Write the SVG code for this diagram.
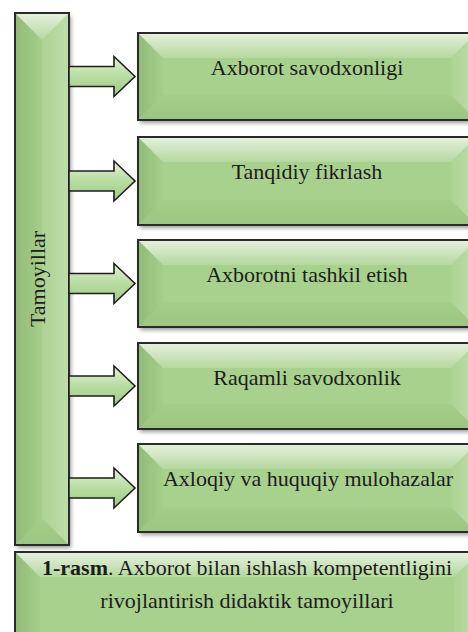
<svg xmlns="http://www.w3.org/2000/svg" width="468" height="632" viewBox="0 0 468 632">
<defs>
<filter id="sh" x="-10%" y="-10%" width="130%" height="130%">
<feDropShadow dx="2" dy="3" stdDeviation="2" flood-color="#000" flood-opacity="0.4"/>
</filter>
<linearGradient id="gTop" x1="0" y1="0" x2="0" y2="1">
<stop offset="0" stop-color="#fff" stop-opacity="0.7"/>
<stop offset="1" stop-color="#fff" stop-opacity="0.15"/>
</linearGradient>
<linearGradient id="gLeft" x1="0" y1="0" x2="1" y2="0">
<stop offset="0" stop-color="#3d6b2a" stop-opacity="0.22"/>
<stop offset="1" stop-color="#3d6b2a" stop-opacity="0.03"/>
</linearGradient>
<linearGradient id="gRight" x1="0" y1="0" x2="1" y2="0">
<stop offset="0" stop-color="#fff" stop-opacity="0.05"/>
<stop offset="1" stop-color="#fff" stop-opacity="0.25"/>
</linearGradient>
<linearGradient id="gBot" x1="0" y1="0" x2="0" y2="1">
<stop offset="0" stop-color="#5f8f48" stop-opacity="0.05"/>
<stop offset="1" stop-color="#5f8f48" stop-opacity="0.18"/>
</linearGradient>
<linearGradient id="gArrow" x1="0" y1="0" x2="0" y2="1">
<stop offset="0" stop-color="#e2f2d6"/>
<stop offset="0.5" stop-color="#b8dca1"/>
<stop offset="1" stop-color="#9fcb86"/>
</linearGradient>
</defs>
<style>
.body{fill:#a9d18e;}
.edge{fill:none;stroke:#2a2a2a;stroke-width:2;}
.t{font-family:"Liberation Serif","Times New Roman",serif;font-size:22px;fill:#1c1c1c;text-anchor:middle;}
.arrow{fill:url(#gArrow);stroke:#1e1e1e;stroke-width:1.6;stroke-linejoin:miter;}
</style>

<g id="tamoyillar">
<rect x="15" y="13" width="54" height="532" class="body" filter="url(#sh)"/>
<polygon points="15,13 69,13 42,40" fill="url(#gTop)"/>
<polygon points="15,13 42,40 42,518 15,545" fill="url(#gLeft)"/>
<polygon points="69,13 69,545 42,518 42,40" fill="url(#gRight)"/>
<polygon points="15,545 42,518 69,545" fill="url(#gBot)"/>
<rect x="15" y="13" width="54" height="532" class="edge"/>
<text class="t" transform="translate(45,279) rotate(-90)">Tamoyillar</text>
</g>

<g id="connectors">
<polygon class="arrow" points="69,66.5 114,66.5 114,56.5 135,76.5 114,96.5 114,86.5 69,86.5"/>
<polygon class="arrow" points="69,171 114,171 114,161 135,181 114,201 114,191 69,191"/>
<polygon class="arrow" points="69,273.5 114,273.5 114,263.5 135,283.5 114,303.5 114,293.5 69,293.5"/>
<polygon class="arrow" points="69,376 114,376 114,366 135,386 114,406 114,396 69,396"/>
<polygon class="arrow" points="69,478 114,478 114,468 135,488 114,508 114,498 69,498"/>
</g>

<g id="n1">
<rect x="138" y="33" width="338" height="87" class="body" filter="url(#sh)"/>
<polygon points="138,33 476,33 451,58 163,58" fill="url(#gTop)"/>
<polygon points="138,33 163,58 163,95 138,120" fill="url(#gLeft)"/>
<polygon points="476,33 476,120 451,95 451,58" fill="url(#gRight)"/>
<polygon points="138,120 163,95 451,95 476,120" fill="url(#gBot)"/>
<rect x="138" y="33" width="338" height="87" class="edge"/>
<text class="t" x="307" y="75">Axborot savodxonligi</text>
</g>

<g id="n2">
<rect x="138" y="137" width="338" height="88" class="body" filter="url(#sh)"/>
<polygon points="138,137 476,137 451,162 163,162" fill="url(#gTop)"/>
<polygon points="138,137 163,162 163,200 138,225" fill="url(#gLeft)"/>
<polygon points="476,137 476,225 451,200 451,162" fill="url(#gRight)"/>
<polygon points="138,225 163,200 451,200 476,225" fill="url(#gBot)"/>
<rect x="138" y="137" width="338" height="88" class="edge"/>
<text class="t" x="307" y="179">Tanqidiy fikrlash</text>
</g>

<g id="n3">
<rect x="138" y="240" width="338" height="87" class="body" filter="url(#sh)"/>
<polygon points="138,240 476,240 451,265 163,265" fill="url(#gTop)"/>
<polygon points="138,240 163,265 163,302 138,327" fill="url(#gLeft)"/>
<polygon points="476,240 476,327 451,302 451,265" fill="url(#gRight)"/>
<polygon points="138,327 163,302 451,302 476,327" fill="url(#gBot)"/>
<rect x="138" y="240" width="338" height="87" class="edge"/>
<text class="t" x="307" y="282">Axborotni tashkil etish</text>
</g>

<g id="n4">
<rect x="138" y="343" width="338" height="86" class="body" filter="url(#sh)"/>
<polygon points="138,343 476,343 451,368 163,368" fill="url(#gTop)"/>
<polygon points="138,343 163,368 163,404 138,429" fill="url(#gLeft)"/>
<polygon points="476,343 476,429 451,404 451,368" fill="url(#gRight)"/>
<polygon points="138,429 163,404 451,404 476,429" fill="url(#gBot)"/>
<rect x="138" y="343" width="338" height="86" class="edge"/>
<text class="t" x="307" y="385">Raqamli savodxonlik</text>
</g>

<g id="n5">
<rect x="138" y="444" width="338" height="88" class="body" filter="url(#sh)"/>
<polygon points="138,444 476,444 451,469 163,469" fill="url(#gTop)"/>
<polygon points="138,444 163,469 163,507 138,532" fill="url(#gLeft)"/>
<polygon points="476,444 476,532 451,507 451,469" fill="url(#gRight)"/>
<polygon points="138,532 163,507 451,507 476,532" fill="url(#gBot)"/>
<rect x="138" y="444" width="338" height="88" class="edge"/>
<text class="t" x="308" y="486">Axloqiy va huquqiy mulohazalar</text>
</g>

<g id="caption">
<rect x="15" y="552" width="464" height="100" class="body" filter="url(#sh)"/>
<polygon points="15,552 479,552 454,577 40,577" fill="url(#gTop)"/>
<polygon points="15,552 40,577 40,652 15,652" fill="url(#gLeft)"/>
<polygon points="479,552 479,652 454,652 454,577" fill="url(#gRight)"/>
<rect x="15" y="552" width="464" height="100" class="edge"/>
<text class="t" x="247" y="575"><tspan font-weight="bold">1-rasm</tspan>. Axborot bilan ishlash kompetentligini</text>
<text class="t" x="247" y="608">rivojlantirish didaktik tamoyillari</text>
</g>
</svg>
